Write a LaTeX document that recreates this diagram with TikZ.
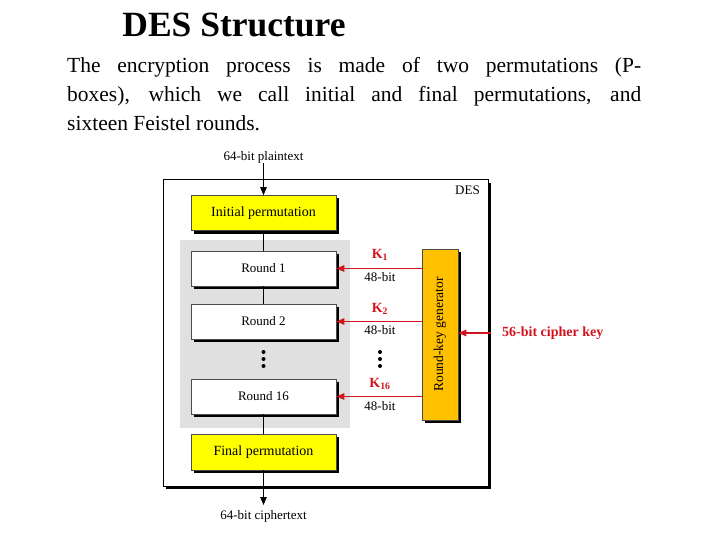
\documentclass[tikz,border=0pt]{standalone}
\usepackage{fontspec}
\setmainfont{Liberation Serif}
\usetikzlibrary{arrows.meta,shadows}
\definecolor{kred}{RGB}{210,20,30}
\definecolor{ppyellow}{RGB}{255,255,0}
\definecolor{rkorange}{RGB}{255,192,0}
\definecolor{rgray}{RGB}{224,224,224}
\tikzset{
  shad/.style={drop shadow={shadow xshift=3pt,shadow yshift=-3pt,fill=black,opacity=1}},
  permbox/.style={draw=black!70,line width=0.6pt,fill=ppyellow,minimum width=145pt,minimum height=35pt,inner sep=0pt,font=\fontsize{14}{16}\selectfont,shad},
  roundbox/.style={draw=black!70,line width=0.6pt,fill=white,minimum width=145pt,minimum height=35pt,inner sep=0pt,font=\fontsize{13}{15}\selectfont,shad},
  lbl/.style={inner sep=0pt,font=\fontsize{13}{15}\selectfont},
  klbl/.style={inner sep=0pt,text=kred,font=\fontsize{14}{16}\selectfont\bfseries},
  flow/.style={line width=0.8pt},
  flowarr/.style={line width=0.8pt,-{Triangle[length=8pt,width=6.5pt]}},
  karr/.style={draw=kred,line width=1.1pt,-{Triangle[length=8pt,width=6.5pt]}},
  dotc/.style={circle,fill=black,inner sep=0pt,minimum size=4pt}
}
\begin{document}
\begin{tikzpicture}[x=1pt,y=-1pt]
\useasboundingbox (0,0) rectangle (720,540);
% title and paragraph
\node[anchor=base,inner sep=0pt,font=\fontsize{35.5}{38}\selectfont\bfseries] (title) at (234,37) {DES Structure};
\node[anchor=base west,inner sep=0pt,font=\fontsize{21.5}{29}\selectfont] (p1) at (67,73) {\makebox[574pt][s]{The encryption process is made of two permutations (P-}};
\node[anchor=base west,inner sep=0pt,font=\fontsize{21.5}{29}\selectfont] (p2) at (67,102) {\makebox[574pt][s]{boxes), which we call initial and final permutations, and}};
\node[anchor=base west,inner sep=0pt,font=\fontsize{21.5}{29}\selectfont] (p3) at (67,131) {sixteen Feistel rounds.};
% outer DES box
\node[draw=black,line width=1pt,fill=white,minimum width=325pt,minimum height=306pt,inner sep=0pt,shad] (des) at (325.5,333) {};
\node[lbl,anchor=north east] (deslbl) at (480,186) {DES};
% gray band
\fill[rgray] (180,240) rectangle (350,428);
% boxes
\node[permbox] (ip) at (263.5,213) {Initial permutation};
\node[roundbox] (r1) at (263.5,268.5) {Round 1};
\node[roundbox] (r2) at (263.5,321.5) {Round 2};
\node[roundbox] (r16) at (263.5,396.5) {Round 16};
\node[permbox,minimum height=36pt] (fp) at (263.5,452) {Final permutation};
\node[draw=black!70,line width=0.6pt,fill=rkorange,minimum width=36pt,minimum height=171pt,inner sep=0pt,shad] (rkg) at (440,334.5) {};
\node[rotate=90,inner sep=0pt,font=\fontsize{13.5}{15}\selectfont] (rkgt) at (440,334.5) {Round-key generator};
% plaintext / ciphertext
\node[lbl] (pt) at (263.5,157) {64-bit plaintext};
\node[lbl] (ct) at (263.5,516) {64-bit ciphertext};
\coordinate (ctend) at (263.5,505);
\draw[flowarr] (pt.south) -- (ip.north);
\draw[flow] (ip.south) -- (r1.north);
\draw[flow] (r1.south) -- (r2.north);
\draw[flow] (r16.south) -- (fp.north);
\draw[flowarr] (fp.south) -- (ctend);
% dots
\node[dotc] (d1) at (263.5,352) {};
\node[dotc] (d2) at (263.5,359) {};
\node[dotc] (d3) at (263.5,366) {};
\node[dotc] (e1) at (380,352) {};
\node[dotc] (e2) at (380,359) {};
\node[dotc] (e3) at (380,366) {};
% key arrows
\draw[karr] (rkg.west |- r1) -- (r1.east);
\draw[karr] (rkg.west |- r2) -- (r2.east);
\draw[karr] (rkg.west |- r16) -- (r16.east);
\node[klbl] (k1) at (380,255) {K\textsubscript{1}};
\node[lbl] (b1) at (380,277.5) {48-bit};
\node[klbl] (k2) at (380,309) {K\textsubscript{2}};
\node[lbl] (b2) at (380,330.5) {48-bit};
\node[klbl] (k16) at (380,384) {K\textsubscript{16}};
\node[lbl] (b16) at (380,406) {48-bit};
% cipher key
\coordinate (ckstart) at (491,333);
\draw[karr] (ckstart) -- (rkg.east |- ckstart) ;
\node[anchor=west,inner sep=0pt,text=kred,font=\fontsize{14}{16}\selectfont\bfseries] (ck) at (502,333) {56-bit cipher key};
\end{tikzpicture}
\end{document}
